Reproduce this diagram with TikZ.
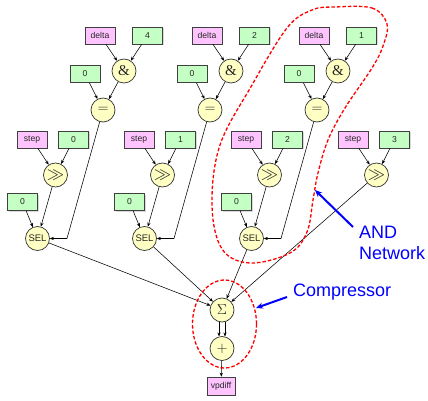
\documentclass[tikz,border=0pt]{standalone}
\usepackage{fontspec}
\newfontfamily\arial{Liberation Sans}
\newfontfamily\tnr{Liberation Serif}
\usetikzlibrary{arrows.meta,shadows}
\definecolor{boxpink}{HTML}{FFC4FF}
\definecolor{boxgreen}{HTML}{C4FFC4}
\definecolor{opyel}{HTML}{FFFFC4}
\begin{document}
\begin{tikzpicture}[x=1pt,y=-1pt,
  every node/.style={font=\arial\fontsize{8.6}{9}\selectfont, text=black!85},
  bx/.style={draw=black!75, minimum width=30pt, minimum height=17pt, inner sep=0pt, line width=0.7pt,
     drop shadow={shadow xshift=1pt, shadow yshift=-1pt, opacity=0.3}},
  boxp/.style={bx, fill=boxpink},
  boxg/.style={bx, fill=boxgreen},
  op/.style={circle, draw=black!80, fill=opyel, minimum size=24pt, inner sep=0pt, line width=0.7pt},
  arr/.style={-{Stealth[length=4pt,width=3.2pt]}, line width=0.55pt},
  callout/.style={-{Stealth[length=7pt,width=6pt]}, line width=2pt, blue},
  outline/.style={red, dashed, dash pattern=on 3.5pt off 2pt, line width=1.3pt},
  bigtxt/.style={font=\arial\fontsize{18}{21}\selectfont, text=blue, inner sep=0pt, align=left}
]
\useasboundingbox (0,0) rectangle (428,401);

\foreach \i/\c/\s in {0/4/0, 1/2/1, 2/1/2}{
  \pgfmathsetmacro\dx{107*\i}
  \node[boxp] (d\i) at ({100+\dx},35.5) {delta};
  \node[boxg] (c\i) at ({147.5+\dx},35.5) {\c};
  \node[op, font=\tnr\fontsize{15}{15}\selectfont] (and\i) at ({124+\dx},71) {\&};
  \node[boxg] (z\i) at ({85+\dx},74) {0};
  \node[op, font=\fontsize{15}{15}\selectfont] (eq\i) at ({103+\dx},110) {$=$};
  \node[boxp] (s\i) at ({32+\dx},139.5) {step};
  \node[boxg] (k\i) at ({73.5+\dx},139.5) {\s};
  \node[op, font=\fontsize{16}{16}\selectfont] (sh\i) at ({55.5+\dx},175) {$\gg$};
  \node[boxg] (y\i) at ({22.5+\dx},202) {0};
  \node[op, font=\arial\fontsize{9.5}{10}\selectfont] (sel\i) at ({37.5+\dx},238.5) {SEL};
  \coordinate (cr\i) at ({67+\dx},238.5);
  \draw[arr] (d\i) -- (and\i);
  \draw[arr] (c\i) -- (and\i);
  \draw[arr] (z\i) -- (eq\i);
  \draw[arr] (and\i) -- (eq\i);
  \draw[arr] (s\i) -- (sh\i);
  \draw[arr] (k\i) -- (sh\i);
  \draw[arr] (y\i) -- (sel\i);
  \draw[arr] (sh\i) -- (sel\i);
  \draw[arr] (eq\i) -- (cr\i) -- (sel\i);
}
\node[boxp] (s3) at (353,139.5) {step};
\node[boxg] (k3) at (394.5,139.5) {3};
\node[op, font=\fontsize{16}{16}\selectfont] (sh3) at (376.5,175) {$\gg$};
\draw[arr] (s3) -- (sh3);
\draw[arr] (k3) -- (sh3);

\node[op, font=\fontsize{15}{15}\selectfont] (sig) at (222,310) {$\Sigma$};
\node[op, font=\fontsize{15}{15}\selectfont] (plus) at (222,348.5) {$+$};
\node[boxp, minimum width=28pt, minimum height=18pt] (out) at (221,386) {vpdiff};

\draw[arr] (sel0) -- (sig);
\draw[arr] (sel1) -- (sig);
\draw[arr] (sel2) -- (sig);
\draw[arr] (sh3) -- (sig);
\draw[arr] (sig.-104) -- (plus.104);
\draw[arr] (sig.-76) -- (plus.76);
\draw[arr] (plus) -- (out);

% outlines
\draw[outline] plot[smooth cycle, tension=0.6] coordinates {
  (335,7) (372,8) (387,24) (383,46) (372,68) (345,108) (328,140) (318,173)
  (313,200) (307,232) (290,253) (250,263) (222,249) (212,205) (220,145)
  (252,85) (287,28) (312,10)};
\draw[outline] (224.5,324) ellipse [x radius=32, y radius=44];

% callouts
\draw[callout] (353,227) -- (315,190);
\draw[callout] (287,297) -- (256,308);
\node[bigtxt, anchor=north west] (andtxt) at (359,226) {AND\\Network};
\node[bigtxt, anchor=north west] (comptxt) at (293,284) {Compressor};
\end{tikzpicture}
\end{document}
